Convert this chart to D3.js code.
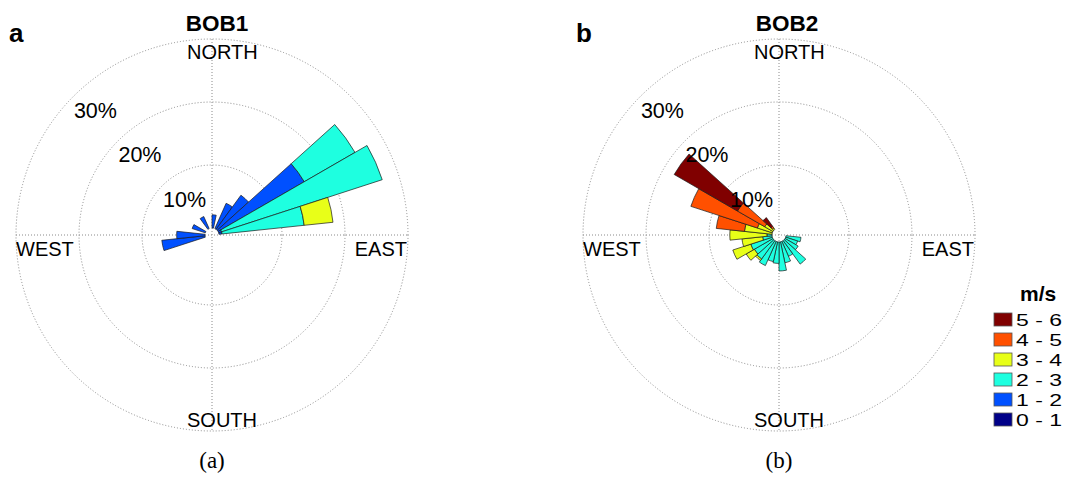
<!DOCTYPE html>
<html><head><meta charset="utf-8">
<script src="https://cdn.jsdelivr.net/npm/d3@7"></script>
<style>
body{margin:0;background:#fff;}
svg{display:block;}
text{font-family:"Liberation Sans",Arial,Helvetica,sans-serif;fill:#000;}
</style>
</head><body>
<svg id="chart" width="1072" height="479"></svg>
<script>
// ---- categories ----
const sectorCenters = [6,18,30,42,54,66,78,90,102,114,126,138,150,162,174,186,198,210,222,234,246,258,270,282,294,306,318,330,342,354];
const speedBins = ["0 - 1","1 - 2","2 - 3","3 - 4","4 - 5","5 - 6"];
const binColors = ["#000088","#0050ff","#1effe0","#e8ff18","#ff5000","#800000"];
const gridTicks = [10,20,30];
const tickLabels = ["10%","20%","30%"];
const compassLabels = ["NORTH","EAST","SOUTH","WEST"];

// ---- BOB1 frequencies (%) per sector, per speed bin ----
const bob1_s01 = [0,0,0,0,0,0,0,0,0,0,0,0,0,0,0,0,0,0,0,0,0,0,0,0,0,0,0,0,0,0];
const bob1_s12 = [2.1,0,4.4,6.7,15.8,0.5,0.5,0,0,0,0,0,0,0,0,0,0,0,0,0,0,6.9,4.5,0,2.2,0,0,2.1,0,0];
const bob1_s23 = [0,0,0,0,9.3,26.8,13.1,0,0,0,0,0,0,0,0,0,0,0,0,0,0,0,0,0,0,0,0,0,0,0];
const bob1_s34 = [0,0,0,0,0,0,4.6,0,0,0,0,0,0,0,0,0,0,0,0,0,0,0,0,0,0,0,0,0,0,0];
const bob1_s45 = [0,0,0,0,0,0,0,0,0,0,0,0,0,0,0,0,0,0,0,0,0,0,0,0,0,0,0,0,0,0];
const bob1_s56 = [0,0,0,0,0,0,0,0,0,0,0,0,0,0,0,0,0,0,0,0,0,0,0,0,0,0,0,0,0,0];

// ---- BOB2 frequencies (%) per sector, per speed bin ----
const bob2_s01 = [0,0,0,0,0,0,0,0,0,0,0,0,0,0,0,0,0,0,0,0,0,0,0,0,0,0,0,0,0,0];
const bob2_s12 = [0,0,0,0,0,0,0,0,0,0,0,0,0,0,0,0,0,0,0,0,0,0,0,0,0,0,0,0,0,0];
const bob2_s23 = [0,0,0,0,0,0,0,0,2.4,2.0,2.4,4.6,2.6,3.4,4.6,3.4,3.2,4.2,3.6,3.4,3.6,1.5,0.8,0,0,0,0,0,0,0];
const bob2_s34 = [0,0,0,0,0,0,0,0,0,0,0,0,0,0,0,0,0,0,0.3,1.5,3.0,3.3,5.9,4.4,2.5,1.5,0.3,0,0,0];
const bob2_s45 = [0,0,0,0,0,0,0,0,0,0,0,0,0,0,0,0,0,0,0,0,0,0,0,4.5,11.1,5.0,0.3,0,0,0];
const bob2_s56 = [0,0,0,0,0,0,0,0,0,0,0,0,0,0,0,0,0,0,0,0,0,0,0,0,0,11.6,1.7,0,0,0];

const panels = [
  {letter:"a", title:"BOB1", caption:"(a)", cx:212, cy:235, titleDx:5,
   bins:[bob1_s01,bob1_s12,bob1_s23,bob1_s34,bob1_s45,bob1_s56]},
  {letter:"b", title:"BOB2", caption:"(b)", cx:779, cy:235, titleDx:8,
   bins:[bob2_s01,bob2_s12,bob2_s23,bob2_s34,bob2_s45,bob2_s56]}
];

const sectorWidth = 12;
const rScale = d3.scaleLinear().domain([0,30]).range([7,196]);
const toRad = d => d*Math.PI/180;
const svg = d3.select("#chart");
svg.append("rect").attr("width",1072).attr("height",479).attr("fill","#fff");

const arc = d3.arc()
  .innerRadius(d => rScale(d.lo))
  .outerRadius(d => rScale(d.hi))
  .startAngle(d => toRad(d.dir - sectorWidth/2))
  .endAngle(d => toRad(d.dir + sectorWidth/2));

panels.forEach(p => {
  const g = svg.append("g").attr("transform",`translate(${p.cx},${p.cy})`);
  const R = rScale(30);
  // grid
  const grid = g.append("g").attr("fill","none").attr("stroke","#8a8a8a")
    .attr("stroke-width",1).attr("stroke-dasharray","1 2");
  gridTicks.forEach(t => grid.append("circle").attr("r",rScale(t)));
  grid.append("line").attr("x1",-R).attr("x2",R).attr("y1",0).attr("y2",0);
  grid.append("line").attr("x1",0).attr("x2",0).attr("y1",-R).attr("y2",R);

  // bars (stacked segments)
  const segs = [];
  sectorCenters.forEach((dir,i) => {
    let cum = 0;
    p.bins.forEach((arr,b) => {
      const v = arr[i];
      if (v > 0) segs.push({dir, lo:cum, hi:cum+v, color:binColors[b]});
      cum += v;
    });
  });
  g.append("g").selectAll("path").data(segs).join("path")
    .attr("d", arc).attr("fill", d => d.color)
    .attr("stroke","#1a1a1a").attr("stroke-width",0.7).attr("stroke-linejoin","round");

  // compass labels
  g.append("text").text(compassLabels[0]).attr("x",-25).attr("y",-176).attr("font-size",20);
  g.append("text").text(compassLabels[1]).attr("x",R-1).attr("y",21).attr("font-size",20).attr("text-anchor","end");
  g.append("text").text(compassLabels[2]).attr("x",-25).attr("y",192).attr("font-size",20);
  g.append("text").text(compassLabels[3]).attr("x",-R).attr("y",21).attr("font-size",20);

  // percent labels along the NW diagonal
  gridTicks.forEach((t,i) => {
    const r = rScale(t);
    g.append("text").text(tickLabels[i])
      .attr("x", -r*Math.SQRT1_2 + 22).attr("y", -r*Math.SQRT1_2 + 21.5)
      .attr("text-anchor","middle").attr("font-size",21.5);
  });

  // title, letter, caption
  svg.append("text").text(p.title).attr("x",p.cx+p.titleDx).attr("y",31)
    .attr("text-anchor","middle").attr("font-size",22.5).attr("font-weight","bold");
  svg.append("text").text(p.letter).attr("x",p.cx-203).attr("y",42)
    .attr("font-size",26).attr("font-weight","bold");
  svg.append("text").text(p.caption).attr("x",p.cx).attr("y",468)
    .attr("text-anchor","middle").attr("font-size",23)
    .style("font-family","'Liberation Serif','Times New Roman',serif");
});

// legend
const lg = svg.append("g");
lg.append("text").text("m/s").attr("x",1020).attr("y",301).attr("font-size",21).attr("font-weight","bold");
const legendOrder = d3.range(speedBins.length).reverse();
legendOrder.forEach((b,i) => {
  const y = 313 + i*20;
  lg.append("rect").attr("x",994).attr("y",y).attr("width",18).attr("height",13)
    .attr("fill",binColors[b]).attr("stroke","#555").attr("stroke-width",0.8);
  lg.append("text").text(speedBins[b]).attr("x",1016).attr("y",y+13)
    .attr("font-size",17).attr("textLength",46).attr("lengthAdjust","spacingAndGlyphs");
});
</script>
</body></html>
